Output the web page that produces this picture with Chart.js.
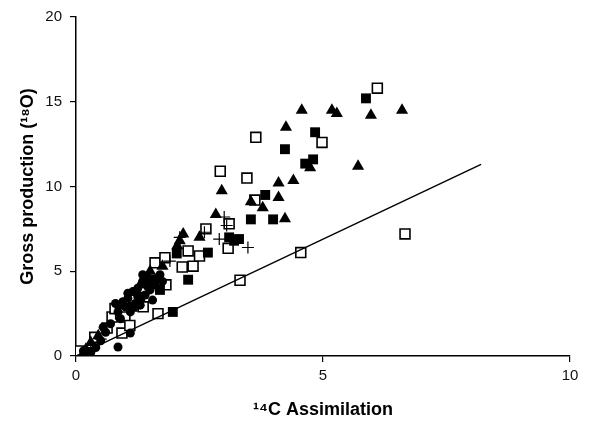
<!DOCTYPE html>
<html>
<head>
<meta charset="utf-8">
<script src="https://cdn.jsdelivr.net/npm/chart.js@4"></script>
<style>
  html, body { margin: 0; padding: 0; background: #fff; }
  #wrap { width: 595px; height: 429px; }
</style>
</head>
<body>
<div id="wrap"><canvas id="gpChart" width="595" height="429"></canvas></div>
<script>
// open squares
const openSqX = [0.0, 0.05, 0.38, 0.63, 0.73, 0.79, 0.93, 0.99, 1.09, 1.36, 1.66, 1.82, 1.6, 1.8, 2.15, 2.37, 2.27, 2.5, 2.63, 3.1, 3.08, 3.32, 2.92, 3.46, 3.64, 3.62, 4.55, 4.98, 6.1, 6.66];
const openSqY = [0.1, 0.3, 1.1, 1.65, 2.3, 2.8, 1.35, 2.3, 1.8, 2.9, 2.5, 4.2, 5.5, 5.8, 5.25, 5.3, 6.2, 5.9, 7.5, 7.8, 6.35, 4.47, 10.9, 10.5, 12.9, 9.2, 6.1, 12.6, 15.8, 7.2];
// filled squares
const fillSqX = [5.87, 4.84, 4.23, 4.8, 4.64, 3.83, 3.54, 3.99, 3.1, 3.3, 3.2, 2.27, 1.96, 2.04, 2.67, 1.55, 1.3, 1.7, 1.15];
const fillSqY = [15.2, 13.2, 12.2, 11.6, 11.35, 9.5, 8.06, 8.06, 7.0, 6.9, 6.8, 4.5, 2.6, 6.05, 6.1, 4.5, 3.5, 3.9, 2.9];
// filled triangles
const triX = [4.57, 5.18, 5.28, 5.97, 6.6, 5.71, 4.74, 4.25, 4.1, 4.4, 2.95, 4.1, 3.54, 3.78, 4.23, 2.83, 2.17, 2.1, 2.5, 1.5, 1.3, 0.9, 0.3, 0.2, 1.75, 2.05, 0.15, 0.45];
const triY = [14.5, 14.5, 14.3, 14.2, 14.5, 11.2, 11.1, 13.5, 10.2, 10.35, 9.75, 9.35, 9.1, 8.75, 8.1, 8.35, 7.2, 6.8, 7.0, 5.0, 4.2, 3.0, 0.8, 0.4, 5.3, 6.5, 0.15, 1.2];
// filled circles
const circX = [0.85, 1.1, 0.3, 0.4, 0.5, 0.6, 0.7, 0.85, 0.95, 1.05, 1.15, 1.25, 1.35, 1.45, 1.0, 1.2, 1.4, 1.5, 1.6, 1.3, 0.9, 0.2, 0.15, 1.7, 1.1, 1.55, 1.25, 1.45, 1.65, 1.35, 1.75, 1.05, 0.8, 0.55];
const circY = [0.53, 1.35, 0.2, 0.5, 0.9, 1.4, 1.9, 2.6, 3.2, 3.4, 3.8, 4.0, 4.4, 4.6, 2.9, 3.1, 3.6, 3.9, 4.2, 3.0, 2.2, 0.1, 0.3, 4.8, 2.6, 3.3, 3.5, 4.1, 4.6, 4.8, 4.4, 3.7, 3.1, 1.7];
// crosses
const crossX = [0.5, 0.8, 1.2, 1.5, 2.1, 3.05, 3.48, 3.0, 2.9, 1.9, 2.6, 0.3];
const crossY = [1.0, 2.5, 3.6, 4.6, 7.0, 7.7, 6.4, 8.2, 6.9, 5.6, 7.3, 0.5];
// reference line
const lineX = [0, 8.2];
const lineY = [0, 11.3];

const xTicks = [0, 5, 10];
const yTicks = [0, 5, 10, 15, 20];

function pts(xs, ys) {
  return xs.map((x, i) => ({ x: x, y: ys[i] }));
}

const ctx = document.getElementById("gpChart").getContext("2d");
const gpChart = new Chart(ctx, {
  type: "scatter",
  data: {
    datasets: [
      {
        type: "line",
        data: pts(lineX, lineY),
        borderColor: "#000",
        borderWidth: 1.4,
        pointRadius: 0,
        fill: false,
      },
      {
        data: pts(circX, circY),
        pointStyle: "circle",
        pointRadius: 4.5,
        backgroundColor: "#000",
        borderColor: "#000",
        borderWidth: 0,
      },
      {
        data: pts(crossX, crossY),
        pointStyle: "cross",
        pointRadius: 6,
        borderColor: "#000",
        borderWidth: 1.2,
      },
      {
        data: pts(triX, triY),
        pointStyle: "triangle",
        pointRadius: 7,
        backgroundColor: "#000",
        borderColor: "#000",
        borderWidth: 0,
      },
      {
        data: pts(fillSqX, fillSqY),
        pointStyle: "rect",
        pointRadius: 7,
        backgroundColor: "#000",
        borderColor: "#000",
        borderWidth: 0,
      },
      {
        data: pts(openSqX, openSqY),
        pointStyle: "rect",
        pointRadius: 7,
        backgroundColor: "#fff",
        borderColor: "#000",
        borderWidth: 1.6,
      },
    ],
  },
  options: {
    responsive: false,
    animation: false,
    layout: {
      padding: { top: 17, right: 25, left: 0, bottom: 0 },
    },
    plugins: {
      legend: { display: false },
      tooltip: { enabled: false },
    },
    scales: {
      x: {
        type: "linear",
        min: 0,
        max: 10,
        afterBuildTicks: (axis) => { axis.ticks = xTicks.map((v) => ({ value: v })); },
        afterFit: (axis) => { axis.height = 73; },
        border: { display: true, color: "#000", width: 1.5 },
        grid: { drawOnChartArea: false, drawTicks: true, tickLength: 6, color: "#000", lineWidth: 1.2 },
        ticks: {
          color: "#111",
          padding: 5,
          font: { family: "Liberation Sans", size: 15 },
        },
        title: {
          display: true,
          text: "\u00B9\u2074C Assimilation",
          color: "#000",
          padding: { top: 0, bottom: 8 },
          font: { family: "Liberation Sans", size: 18, weight: "bold" },
        },
      },
      y: {
        type: "linear",
        min: 0,
        max: 20,
        afterBuildTicks: (axis) => { axis.ticks = yTicks.map((v) => ({ value: v })); },
        afterFit: (axis) => { axis.width = 76; },
        border: { display: true, color: "#000", width: 1.5 },
        grid: { drawOnChartArea: false, drawTicks: true, tickLength: 6, color: "#000", lineWidth: 1.2 },
        ticks: {
          color: "#111",
          padding: 8,
          font: { family: "Liberation Sans", size: 15 },
        },
        title: {
          display: true,
          text: "Gross production (\u00B9\u2078O)",
          color: "#000",
          padding: { top: 17, bottom: 0 },
          font: { family: "Liberation Sans", size: 18, weight: "bold" },
        },
      },
    },
  },
});
</script>
</body>
</html>
